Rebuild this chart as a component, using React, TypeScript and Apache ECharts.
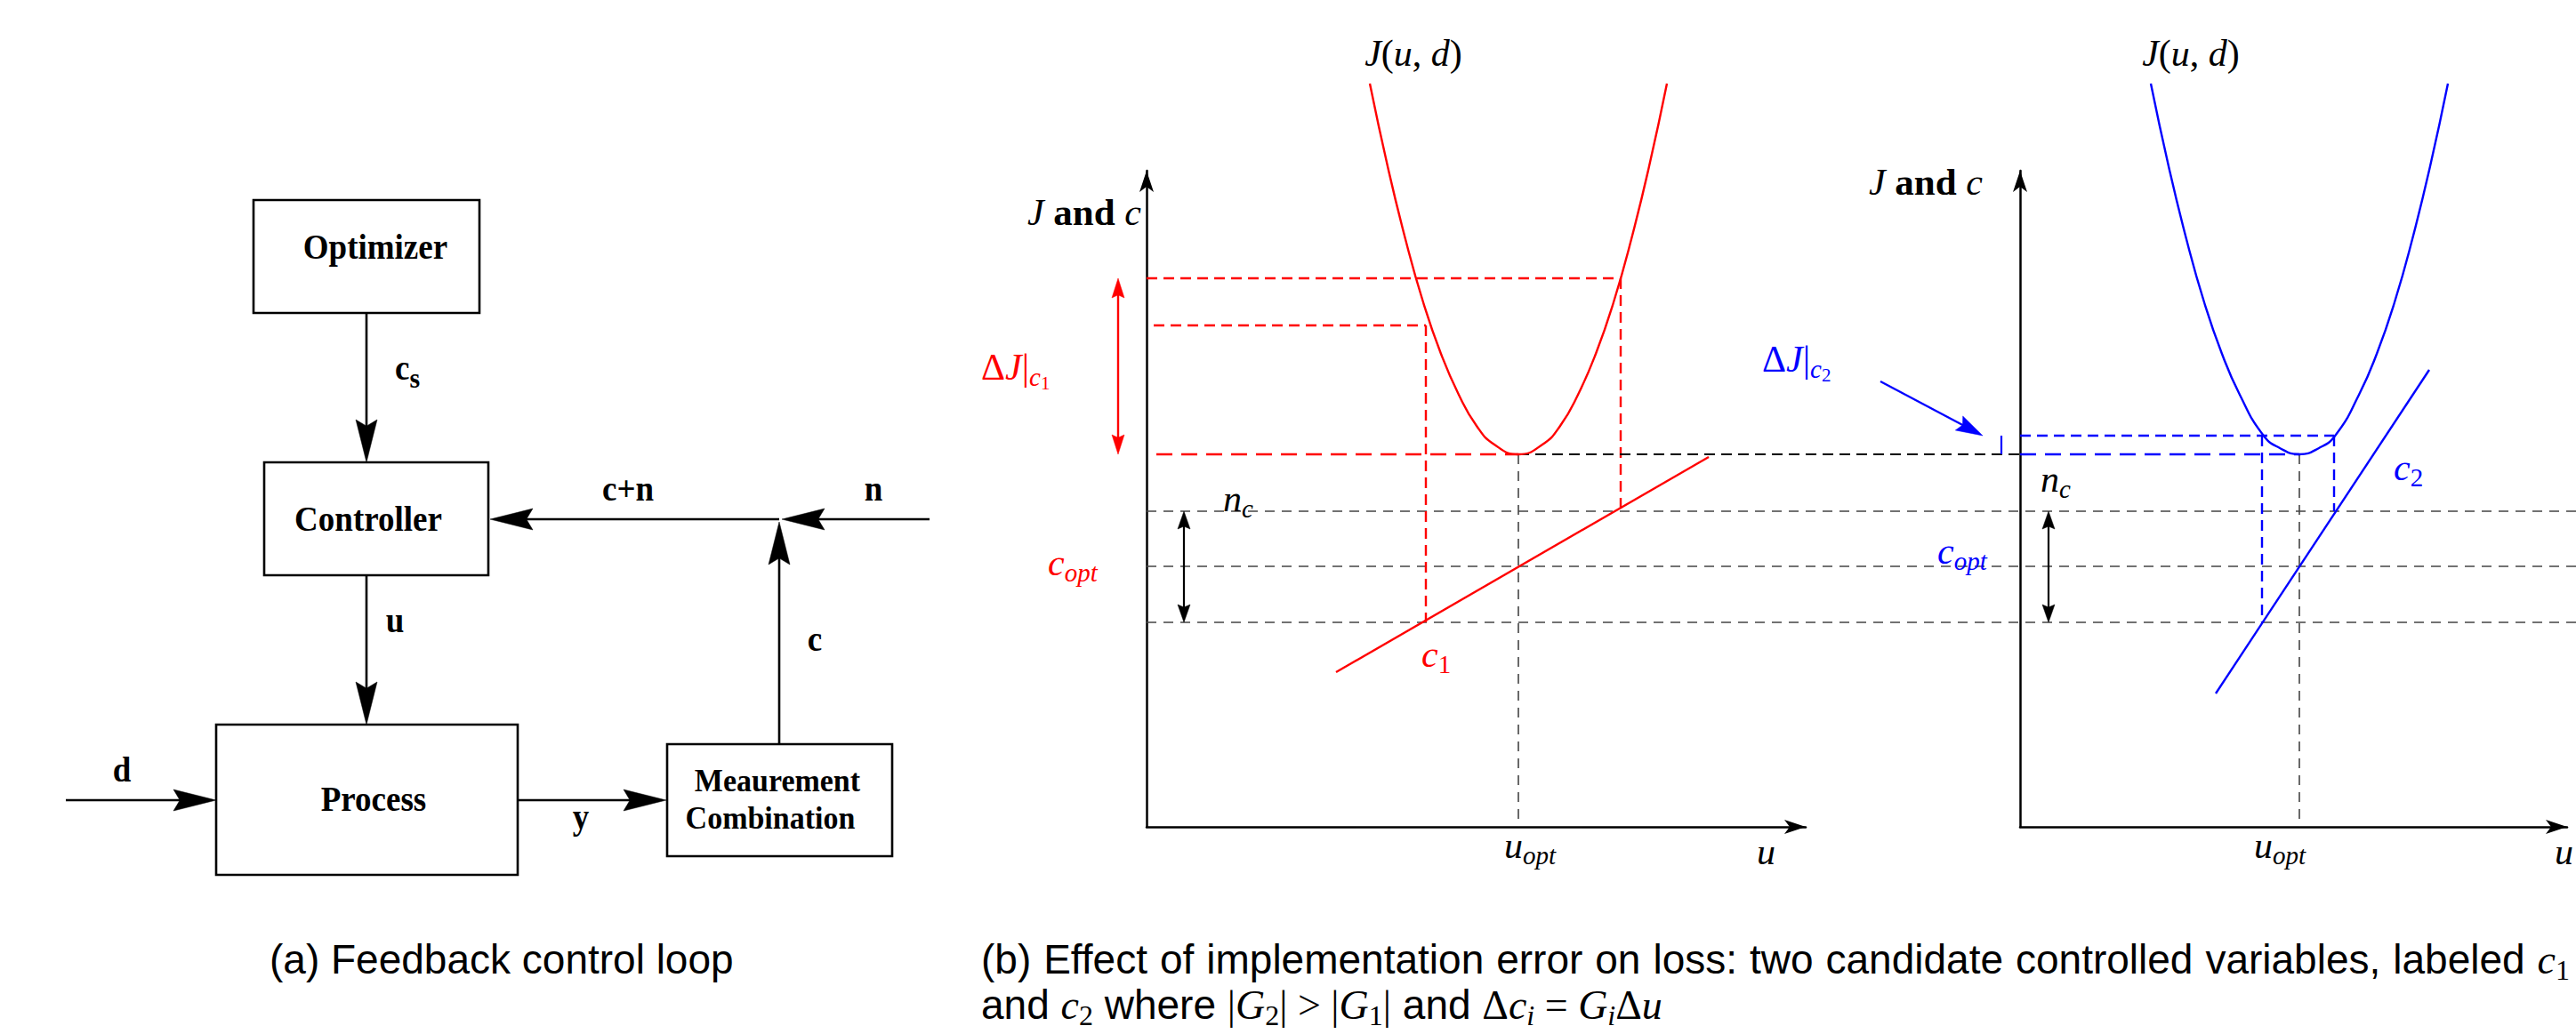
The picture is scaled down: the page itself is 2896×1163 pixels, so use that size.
import React, { useEffect, useRef } from 'react';
import * as echarts from 'echarts';

const W = 2896;
const H = 1163;

// ---------------- (a) block diagram (page units: x right, y down) ----------------
const BLOCK_BOXES: number[][] = [
  [285, 225, 539, 352], // Optimizer
  [297, 520, 549, 647], // Controller
  [243, 815, 582, 984], // Process
  [750, 837, 1003, 963], // Meaurement Combination
];
const SIGNAL_ARROWS: number[][] = [
  [412, 352, 412, 520],
  [412, 647, 412, 815],
  [1045, 584, 879, 584],
  [876, 584, 551, 584],
  [876, 837, 876, 587],
  [74, 900, 243, 900],
  [582, 900, 749, 900],
];

type Run = [string, string];
type Label = [number, number, string, Run[], number?];

const DIAGRAM_LABELS: Label[] = [
  [422, 291, 'center', [['Optimizer', 'blk']]],
  [414, 597, 'center', [['Controller', 'blk']]],
  [420, 912, 'center', [['Process', 'blk']]],
  [874, 890, 'center', [['Meaurement', 'blkS']]],
  [866, 932, 'center', [['Combination', 'blkS']]],
  [444, 427, 'left', [['c', 'blk'], ['s', 'blkSub']]],
  [444, 711, 'center', [['u', 'blk']]],
  [706, 563, 'center', [['c+n', 'blk']]],
  [982, 563, 'center', [['n', 'blk']]],
  [916, 732, 'center', [['c', 'blk']]],
  [137, 879, 'center', [['d', 'blk']]],
  [653, 932, 'center', [['y', 'blk']]],
];

// ---------------- (b) plots: units = offsets from each panel's axis origin ----------------
// left panel (c1): u, J/c
const J_LEFT: number[][] = [
  [251, 836], [271, 743], [291, 661], [311, 590], [331, 532], [351, 486], [371, 451], [391, 430],
  [418, 419], [445, 430], [465, 451], [485, 486], [505, 532], [525, 590], [545, 661], [565, 743], [585, 836],
];
const C1_LINE: number[][] = [[213, 174], [632, 416]];
const RED_DASH_SHORT: number[][] = [
  [0, 617, 533, 617],
  [533, 617, 533, 355],
  [8, 564, 314, 564],
  [314, 564, 314, 230],
];
const RED_DASH_LONG: number[][] = [[11, 419, 418, 419]];
const BLACK_DASH: number[][] = [[418, 419, 982, 419]];
const GRAY_DASH_LEFT: number[][] = [
  [0, 355, 1607, 355],
  [0, 293, 1607, 293],
  [0, 230, 1607, 230],
  [418, 419, 418, 0],
];
const RED_DOUBLE_ARROW: number[][] = [[-32, 419, -32, 617]];
const BLACK_DOUBLE_ARROW_LEFT: number[][] = [[42, 355, 42, 230]];

// right panel (c2)
const J_RIGHT: number[][] = [
  [147, 836], [167, 743], [187, 661], [207, 590], [227, 532], [247, 486], [273, 441], [292, 426],
  [314, 419], [336, 426], [355, 441], [381, 486], [401, 532], [421, 590], [441, 661], [461, 743], [481, 836],
];
const C2_LINE: number[][] = [[220, 150], [460, 514]];
const BLUE_DASH_SHORT: number[][] = [
  [0, 440, 353, 440],
  [272, 440, 272, 230],
  [353, 440, 353, 355],
];
const BLUE_DASH_LONG: number[][] = [[0, 419, 314, 419]];
const GRAY_DASH_RIGHT: number[][] = [[314, 419, 314, 0]];
const BLUE_TICK: number[][] = [[-21, 419, -21, 440]];
const BLUE_POINTER: number[][] = [[-157, 501, -42, 440]];
const BLACK_DOUBLE_ARROW_RIGHT: number[][] = [[32, 355, 32, 230]];

const JUD: Run[] = [['J', 'm'], ['(', 'mUp'], ['u', 'm'], [', ', 'mUp'], ['d', 'm'], [')', 'mUp']];
const JANDC: Run[] = [['J', 'm'], [' and ', 'mB'], ['c', 'm']];

const PLOT_LABELS: Label[] = [
  [1283, 253, 'right', JANDC],
  [1589, 74, 'center', JUD],
  [2229, 219, 'right', JANDC],
  [2463, 74, 'center', JUD],
  [1375, 575, 'left', [['n', 'm'], ['c', 'ms']]],
  [2294, 553, 'left', [['n', 'm'], ['c', 'ms']]],
  [1691, 965, 'left', [['u', 'm'], ['opt', 'ms']]],
  [2534, 965, 'left', [['u', 'm'], ['opt', 'ms']]],
  [1975, 972, 'left', [['u', 'm']]],
  [2872, 972, 'left', [['u', 'm']]],
];
const RED_LABELS: Label[] = [
  [1103, 427, 'left', [['Δ', 'mUp'], ['J', 'm'], ['|', 'mUp'], ['c', 'ms'], ['1', 'mss']]],
  [1178, 647, 'left', [['c', 'm'], ['opt', 'ms']]],
  [1598, 750, 'left', [['c', 'm'], ['1', 'msUp']]],
];
const BLUE_LABELS: Label[] = [
  [1981, 418, 'left', [['Δ', 'mUp'], ['J', 'm'], ['|', 'mUp'], ['c', 'ms'], ['2', 'mss']]],
  [2178, 634, 'left', [['c', 'm'], ['opt', 'ms']]],
  [2691, 540, 'left', [['c', 'm'], ['2', 'msUp']]],
];

const CAPTION_A = '(a) Feedback control loop';
const CAPTION_B1 = '(b) Effect of implementation error on loss: two candidate controlled variables, labeled';
const CAPTION_B2: Run[] = [
  ['and ', 'cap'], ['c', 'capM'], ['2', 'capSub'], [' where ', 'cap'],
  ['|', 'capUp'], ['G', 'capM'], ['2', 'capSub'], ['|', 'capUp'], [' > ', 'capUp'],
  ['|', 'capUp'], ['G', 'capM'], ['1', 'capSub'], ['|', 'capUp'], [' and ', 'cap'],
  ['Δ', 'capUp'], ['c', 'capM'], ['i', 'capSubI'], [' = ', 'capUp'], ['G', 'capM'], ['i', 'capSubI'],
  ['Δ', 'capUp'], ['u', 'capM'],
];

// ---------------- styles ----------------
const SERIF = '"Liberation Serif", "Times New Roman", Times, serif';
const SANS = '"Liberation Sans", Arial, Helvetica, sans-serif';
type Kind = { fam: string; size: number; weight: string; style: string; dy: number };
const K: Record<string, Kind> = {
  blk: { fam: SERIF, size: 37, weight: 'bold', style: 'normal', dy: 0 },
  blkS: { fam: SERIF, size: 34, weight: 'bold', style: 'normal', dy: 0 },
  blkSub: { fam: SERIF, size: 30, weight: 'bold', style: 'normal', dy: 8 },
  m: { fam: SERIF, size: 42, weight: 'normal', style: 'italic', dy: 0 },
  mUp: { fam: SERIF, size: 42, weight: 'normal', style: 'normal', dy: 0 },
  mB: { fam: SERIF, size: 43, weight: 'bold', style: 'normal', dy: 0 },
  ms: { fam: SERIF, size: 29, weight: 'normal', style: 'italic', dy: 7 },
  msUp: { fam: SERIF, size: 29, weight: 'normal', style: 'normal', dy: 7 },
  mss: { fam: SERIF, size: 21, weight: 'normal', style: 'normal', dy: 11 },
  cap: { fam: SANS, size: 46, weight: 'normal', style: 'normal', dy: 0 },
  capM: { fam: SERIF, size: 46, weight: 'normal', style: 'italic', dy: 0 },
  capUp: { fam: SERIF, size: 46, weight: 'normal', style: 'normal', dy: 0 },
  capSub: { fam: SERIF, size: 32, weight: 'normal', style: 'normal', dy: 7 },
  capSubI: { fam: SERIF, size: 32, weight: 'normal', style: 'italic', dy: 7 },
};
const RED = '#ff0000';
const BLUE = '#0000ff';
const GRAY = '#444444';

let ctx: CanvasRenderingContext2D | null = null;
function measure(t: string, k: Kind): number {
  if (!ctx) ctx = document.createElement('canvas').getContext('2d');
  ctx!.font = `${k.style} ${k.weight} ${k.size}px ${k.fam}`;
  return ctx!.measureText(t).width;
}

function layoutRuns(runs: Run[], align: string, color: string, justify?: number) {
  const ws = runs.map(([t, k]) => measure(t, K[k]));
  let total = ws.reduce((a, b) => a + b, 0);
  let extra = 0;
  if (justify) {
    const nSp = runs.filter((r) => r[0] === ' ').length;
    extra = nSp ? (justify - total) / nSp : 0;
    total = justify;
  }
  let x = align === 'left' ? 0 : align === 'right' ? -total : -total / 2;
  const els: any[] = [];
  runs.forEach(([t, kk], i) => {
    const k = K[kk];
    const trimmed = t.trim();
    if (trimmed) {
      const lead = t.length - t.replace(/^\s+/, '').length;
      const leadW = lead ? measure(t.slice(0, lead), k) : 0;
      els.push({
        type: 'text',
        x: x + leadW,
        y: k.dy - 0.34 * k.size,
        style: {
          text: trimmed,
          fill: color,
          fontSize: k.size,
          fontFamily: k.fam,
          fontWeight: k.weight,
          fontStyle: k.style,
          textAlign: 'left',
          verticalAlign: 'middle',
        },
      });
    }
    x += ws[i] + (justify && t === ' ' ? extra : 0);
  });
  return els;
}

function labelSeries(labels: Label[], color: string, scaleY = 1) {
  return {
    type: 'custom',
    coordinateSystem: 'cartesian2d',
    xAxisIndex: 0,
    yAxisIndex: 0,
    silent: true,
    clip: false,
    z: 10,
    data: labels.map((l, i) => [l[0], l[1], i]),
    renderItem: (_p: any, api: any) => {
      const lab = labels[api.value(2)];
      const p = api.coord([api.value(0), api.value(1)]);
      return { type: 'group', x: p[0], y: p[1], scaleY, children: layoutRuns(lab[3], lab[2], color, lab[4]) };
    },
  };
}

function segSeries(segs: number[][], axis: number, color: string, width: number, dash: number[] | null) {
  return {
    type: 'custom',
    coordinateSystem: 'cartesian2d',
    xAxisIndex: axis,
    yAxisIndex: axis,
    silent: true,
    clip: false,
    z: 3,
    data: segs,
    renderItem: (_p: any, api: any) => {
      const a = api.coord([api.value(0), api.value(1)]);
      const b = api.coord([api.value(2), api.value(3)]);
      return {
        type: 'line',
        shape: { x1: a[0], y1: a[1], x2: b[0], y2: b[1] },
        style: { stroke: color, lineWidth: width, lineDash: dash || undefined, fill: null },
      };
    },
  };
}

function arrowSeries(segs: number[][], axis: number, color: string, width: number, len: number, hw: number, both: boolean) {
  return {
    type: 'custom',
    coordinateSystem: 'cartesian2d',
    xAxisIndex: axis,
    yAxisIndex: axis,
    silent: true,
    clip: false,
    z: 5,
    data: segs,
    renderItem: (_p: any, api: any) => {
      const a = api.coord([api.value(0), api.value(1)]);
      const b = api.coord([api.value(2), api.value(3)]);
      const dx = b[0] - a[0];
      const dy = b[1] - a[1];
      const L = Math.hypot(dx, dy) || 1;
      const ux = dx / L;
      const uy = dy / L;
      const nx = -uy;
      const ny = ux;
      const head = (tip: number[], sx: number, sy: number) => ({
        type: 'polygon',
        shape: {
          points: [
            [tip[0], tip[1]],
            [tip[0] - sx * len + nx * hw, tip[1] - sy * len + ny * hw],
            [tip[0] - sx * len * 0.85, tip[1] - sy * len * 0.85],
            [tip[0] - sx * len - nx * hw, tip[1] - sy * len - ny * hw],
          ],
        },
        style: { fill: color, stroke: color, lineWidth: 0.5 },
      });
      const s = both ? [a[0] + ux * len * 0.8, a[1] + uy * len * 0.8] : a;
      const e = [b[0] - ux * len * 0.8, b[1] - uy * len * 0.8];
      const children: any[] = [
        { type: 'line', shape: { x1: s[0], y1: s[1], x2: e[0], y2: e[1] }, style: { stroke: color, lineWidth: width } },
        head(b, ux, uy),
      ];
      if (both) children.push(head(a, -ux, -uy));
      return { type: 'group', children };
    },
  };
}

function boxSeries(boxes: number[][]) {
  return {
    type: 'custom',
    coordinateSystem: 'cartesian2d',
    xAxisIndex: 0,
    yAxisIndex: 0,
    silent: true,
    clip: false,
    z: 4,
    data: boxes,
    renderItem: (_p: any, api: any) => {
      const a = api.coord([api.value(0), api.value(1)]);
      const b = api.coord([api.value(2), api.value(3)]);
      return {
        type: 'rect',
        shape: { x: a[0], y: a[1], width: b[0] - a[0], height: b[1] - a[1] },
        style: { fill: 'none', stroke: '#000', lineWidth: 2.6 },
      };
    },
  };
}

function curve(data: number[][], axis: number, color: string, smooth: number | boolean) {
  return {
    type: 'line',
    xAxisIndex: axis,
    yAxisIndex: axis,
    data,
    smooth,
    symbol: 'none',
    clip: false,
    silent: true,
    z: 6,
    lineStyle: { color, width: 2.4 },
  };
}

function plotAxis(grid: number, max: number) {
  return {
    type: 'value',
    gridIndex: grid,
    min: 0,
    max,
    axisLine: {
      show: true,
      onZero: true,
      symbol: ['none', 'arrow'],
      symbolSize: [12, 24],
      lineStyle: { color: '#000', width: 2.5 },
    },
    axisTick: { show: false },
    axisLabel: { show: false },
    splitLine: { show: false },
  };
}

function buildCaptionB1(): Run[] {
  const runs: Run[] = [];
  CAPTION_B1.split(' ').forEach((w, i) => {
    if (i) runs.push([' ', 'cap']);
    runs.push([w, 'cap']);
  });
  runs.push([' ', 'cap'], ['c', 'capM'], ['1', 'capSub']);
  return runs;
}

const CAPTIONS: Label[] = [
  [303, 1095, 'left', [[CAPTION_A, 'cap']]],
  [1103, 1095, 'left', buildCaptionB1(), 1786],
  [1103, 1146, 'left', CAPTION_B2],
];

function buildOption() {
  return {
    animation: false,
    backgroundColor: '#ffffff',
    grid: [
      { left: 0, top: 0, width: W, height: H },
      { left: 1289, top: 192, width: 741, height: 738 },
      { left: 2271, top: 192, width: 615, height: 738 },
    ],
    xAxis: [
      { type: 'value', gridIndex: 0, min: 0, max: W, show: false },
      plotAxis(1, 741),
      plotAxis(2, 615),
    ],
    yAxis: [
      { type: 'value', gridIndex: 0, min: 0, max: H, inverse: true, show: false },
      plotAxis(1, 738),
      plotAxis(2, 738),
    ],
    series: [
      // (a)
      boxSeries(BLOCK_BOXES),
      arrowSeries(SIGNAL_ARROWS, 0, '#000', 2.6, 48, 12, false),
      labelSeries(DIAGRAM_LABELS, '#000', 1.08),
      // (b) left
      segSeries(GRAY_DASH_LEFT, 1, GRAY, 1.6, [11, 8]),
      segSeries(RED_DASH_SHORT, 1, RED, 2.4, [12, 7]),
      segSeries(RED_DASH_LONG, 1, RED, 2.4, [18, 10]),
      segSeries(BLACK_DASH, 1, '#000', 2.2, [12, 7]),
      curve(J_LEFT, 1, RED, 0.5),
      curve(C1_LINE, 1, RED, false),
      arrowSeries(RED_DOUBLE_ARROW, 1, RED, 2.4, 22, 7, true),
      arrowSeries(BLACK_DOUBLE_ARROW_LEFT, 1, '#000', 2.2, 20, 7, true),
      // (b) right
      segSeries(GRAY_DASH_RIGHT, 2, GRAY, 1.6, [11, 8]),
      segSeries(BLUE_DASH_SHORT, 2, BLUE, 2.4, [12, 7]),
      segSeries(BLUE_DASH_LONG, 2, BLUE, 2.4, [18, 10]),
      segSeries(BLUE_TICK, 2, BLUE, 2.2, null),
      curve(J_RIGHT, 2, BLUE, 0.5),
      curve(C2_LINE, 2, BLUE, false),
      arrowSeries(BLUE_POINTER, 2, BLUE, 2.4, 30, 9, false),
      arrowSeries(BLACK_DOUBLE_ARROW_RIGHT, 2, '#000', 2.2, 20, 7, true),
      // texts
      labelSeries(PLOT_LABELS, '#000'),
      labelSeries(RED_LABELS, RED),
      labelSeries(BLUE_LABELS, BLUE),
      labelSeries(CAPTIONS, '#000'),
    ],
  };
}

export default function App() {
  const ref = useRef<HTMLDivElement>(null);
  useEffect(() => {
    if (!ref.current) return;
    const chart = echarts.init(ref.current, undefined, { renderer: 'svg', width: W, height: H });
    chart.setOption(buildOption() as any);
    return () => chart.dispose();
  }, []);
  return (
    <div
      ref={ref}
      style={{ position: 'fixed', left: 0, top: 0, width: W, height: H, background: '#fff', overflow: 'hidden' }}
    />
  );
}
